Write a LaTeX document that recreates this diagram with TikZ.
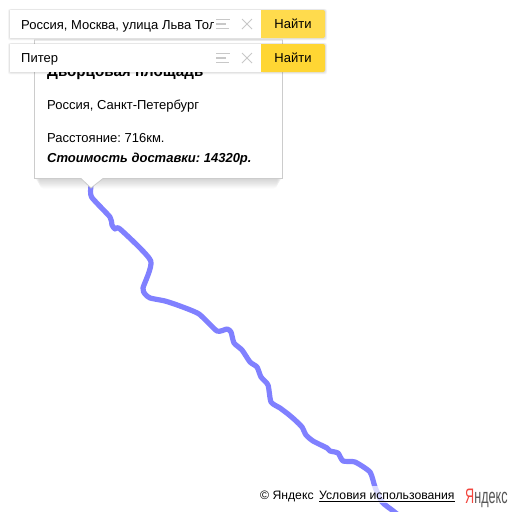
\documentclass[tikz,border=0pt]{standalone}
\usepackage{fontspec}
\setmainfont{Liberation Sans}
\frenchspacing
\usetikzlibrary{calc}
\usetikzlibrary{positioning}
\definecolor{routeblue}{HTML}{8080FF}
\definecolor{btnyellow}{HTML}{FFD633}
\definecolor{btnpale}{HTML}{FFDB4D}
\definecolor{iconline}{HTML}{C8C8C8}
\definecolor{logored}{HTML}{F2453D}
\definecolor{logogray}{HTML}{555555}

\begin{document}
\begin{tikzpicture}[x=1pt, y=-1pt,
        txt/.style={anchor=base west, inner sep=0pt, font=\fontsize{13}{15}\selectfont, text=black},
        btn/.style={anchor=center, inner sep=0pt, font=\fontsize{13}{15}\selectfont, text=black},
        icon/.style={draw=iconline, line width=1.3pt}]
        \useasboundingbox (0,0) rectangle (512,512);
        \fill[white] (0,0) rectangle (512,512);

        % route
        \draw[routeblue, line width=5.2pt, line join=round, line cap=round] plot[smooth, tension=0.35] coordinates {
            (91,186) (91.5,197) (110,217) (112,225) (115,229) (120,229) (150.7,260.7) (143,288)
            (145,294) (150,298) (165,301) (180,306) (199,314) (217,331) (227,329) (231,332)
            (234,343) (242,350) (250,362) (257,367) (261,377) (268,385) (271,402) (280,408)
            (288,414) (295,420) (302,427) (306,435) (313,441) (327,448) (330,451) (338,453)
            (343,461) (355,462) (370,472) (375,487) (382,502) (392,510) (397,514)};

        % balloon shadow
        \foreach \i in {1,...,8}
            \fill[black, opacity=0.02, rounded corners=4pt] ($(34+0.7*\i,40)$) rectangle ($(283-0.7*\i,179+1.2*\i)$);

        % balloon
        \draw[fill=white, draw=black!20, line width=0.8pt] (34.5,40) -- (282.5,40) -- (282.5,178.5) -- (103,178.5) -- (91,188) -- (81,178.5) -- (34.5,178.5) -- cycle;
        \node (title) at (47,76) [txt, font=\fontsize{15.2}{17}\selectfont\bfseries] {Дворцовая площадь};
        \node (region) at (47,109) [txt] {Россия, Санкт-Петербург};
        \node (dist) at (47,142) [txt] {Расстояние: 716км.};
        \node (cost) at (47,162) [txt, font=\fontsize{13}{15}\selectfont\bfseries\itshape] {Стоимость доставки: 14320р.};

        % search boxes
        \foreach \top/\name/\col in {10/one/btnpale, 44/two/btnyellow} {
            \foreach \i in {1,...,4}
                \fill[black, opacity=0.03, rounded corners=2pt] ($(10-0.5*\i,\top-0.3*\i)$) rectangle ($(325+0.5*\i,\top+28+0.6*\i)$);
            \fill[white] (10,\top) rectangle (262,\top+28);
            \fill[\col, rounded corners=2pt] (261,\top) rectangle (325,\top+28);
            \fill[\col] (261,\top) rectangle (266,\top+28);
            \node (btn\name) at (293,\top+14) [btn] {Найти};
            % menu icon
            \draw[icon] (216,\top+9.8) -- (230,\top+9.8);
            \draw[icon] (216,\top+14) -- (226,\top+14);
            \draw[icon] (216,\top+18.4) -- (229,\top+18.4);
            % cross icon
            \draw[icon, line width=0.8pt] (242,\top+9) -- (252,\top+19);
            \draw[icon, line width=0.8pt] (252,\top+9) -- (242,\top+19);
        }
        \begin{scope}
            \clip (21,10) rectangle (213,38);
            \node (addr) at (21,29) [txt] {Россия, Москва, улица Льва Толстого};
        \end{scope}
        \node (query) at (21,62) [txt] {Питер};

        % attribution
        \fill[white, opacity=0.7] (257,486) rectangle (458,503);
        \node (copy) at (260,499.5) [txt, font=\fontsize{12.2}{14}\selectfont] {© Яндекс};
        \node (terms) at (319,499.5) [txt, font=\fontsize{12.2}{14}\selectfont] {Условия использования};
        \draw[black, line width=0.7pt] (319,501) -- (455,501);
        \node (logo) at (465,503) [anchor=base west, inner sep=0pt, font=\fontsize{21}{23}\selectfont] {\scalebox{0.6}[1]{\textcolor{logored}{Я}\textcolor{logogray}{ндекс}}};
    \end{tikzpicture}
\end{document}
